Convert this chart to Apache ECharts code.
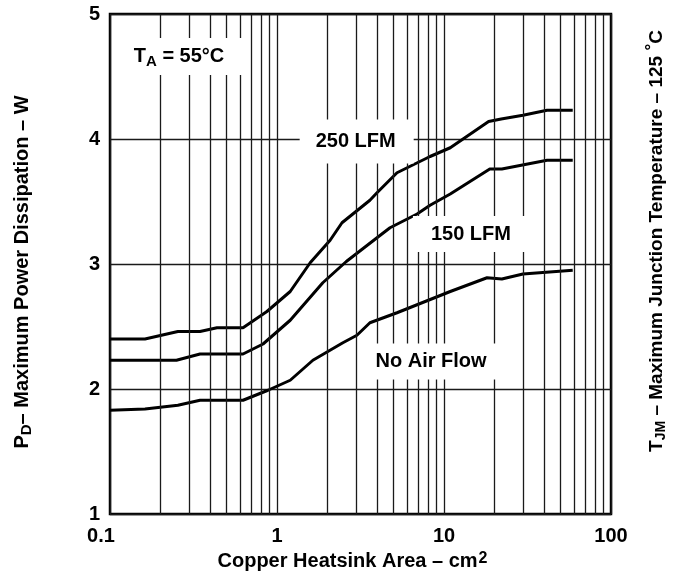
<!DOCTYPE html>
<html>
<head>
<meta charset="utf-8">
<script src="https://cdn.jsdelivr.net/npm/echarts@6/dist/echarts.min.js"></script>
<style>html,body{margin:0;padding:0;background:#fff;}#c{width:675px;height:578px;}</style>
</head>
<body>
<div id="c"></div>
<script>
// ---- data ----
const x250 = [0.1, 0.162, 0.255, 0.346, 0.437, 0.626, 0.87, 1.2, 1.58, 2.08, 2.45, 3.6, 3.97, 5.23, 8.25, 10.9, 18.5, 22, 29.7, 41.4, 59];
const y250 = [2.40, 2.40, 2.46, 2.46, 2.49, 2.49, 2.62, 2.78, 3.01, 3.19, 3.33, 3.51, 3.57, 3.73, 3.86, 3.93, 4.14, 4.16, 4.19, 4.23, 4.23];
const x150 = [0.1, 0.25, 0.346, 0.626, 0.825, 1.2, 1.88, 2.6, 3.97, 4.75, 6.9, 8.25, 10.9, 18.8, 22.2, 41.4, 59];
const y150 = [2.23, 2.23, 2.28, 2.28, 2.36, 2.55, 2.85, 3.02, 3.21, 3.29, 3.40, 3.47, 3.56, 3.76, 3.76, 3.83, 3.83];
const xNoAir = [0.1, 0.162, 0.255, 0.346, 0.626, 0.883, 1.2, 1.64, 2.48, 3.01, 3.6, 5.23, 10.9, 18.1, 22.2, 29.7, 59];
const yNoAir = [1.83, 1.84, 1.87, 1.91, 1.91, 1.99, 2.07, 2.23, 2.37, 2.43, 2.53, 2.61, 2.78, 2.89, 2.88, 2.92, 2.95];
const minorGridX = [0.2,0.3,0.4,0.5,0.6,0.7,0.8,0.9, 2,3,4,5,6,7,8,9, 20,30,40,50,60,70,80,90];
const yTicks = [1, 2, 3, 4, 5];
const xTickLabels = ['0.1', '1', '10', '100'];
// label texts and anchor values
const notes = [
  {text: 'T{sub|A} = 55°C', at: [0.27, 4.66], pad: [6, 20, 6, 14]},
  {text: '250 LFM', at: [3.0, 3.98], pad: [12, 18, 12, 16]},
  {text: '150 LFM', at: [14.5, 3.24], pad: [8, 18, 8, 18]},
  {text: 'No Air Flow', at: [8.25, 2.22], pad: [8, 14, 8, 16]}
];

const FONT = 'Liberation Sans';
const zip = (xs, ys) => xs.map((x, i) => [x, ys[i]]);
const curveStyle = {color: '#000', width: 3};
const tickFont = {fontFamily: FONT, fontWeight: 'bold', fontSize: 20, color: '#000'};

const chart = echarts.init(document.getElementById('c'));
chart.setOption({
  animation: false,
  backgroundColor: '#fff',
  grid: {left: 110, right: 64, top: 14, bottom: 64, show: true, borderColor: '#000', borderWidth: 2.5, backgroundColor: 'transparent'},
  xAxis: {
    type: 'log', logBase: 10, min: 0.1, max: 100,
    name: 'Copper Heatsink Area – cm{sup|2}',
    nameLocation: 'middle', nameGap: 36,
    nameTextStyle: {fontFamily: FONT, fontWeight: 'bold', fontSize: 20, color: '#000', padding: [0, 16, 0, 0],
      rich: {sup: {fontFamily: FONT, fontWeight: 'bold', fontSize: 16, color: '#000', padding: [0, 0, 5, 1]}}},
    axisLine: {show: false}, axisTick: {show: false},
    axisLabel: Object.assign({}, tickFont, {margin: 12,
      formatter: v => {
        const s = xTickLabels.find(t => Math.abs(parseFloat(t) - v) < 1e-9 * Math.max(1, v));
        if (!s) return '';
        return s === xTickLabels[0] ? '{first|' + s + '}' : s;
      },
      rich: {first: Object.assign({}, tickFont, {padding: [0, 18, 0, 0]})}}),
    splitLine: {show: true, lineStyle: {color: '#1a1a1a', width: 1.3}}
  },
  yAxis: {
    type: 'value', min: yTicks[0], max: yTicks[yTicks.length - 1], interval: 1,
    axisLine: {show: false}, axisTick: {show: false},
    axisLabel: Object.assign({}, tickFont, {margin: 10}),
    splitLine: {show: true, lineStyle: {color: '#1a1a1a', width: 1.3}}
  },
  graphic: [{
    type: 'text', x: 22, y: 272, rotation: Math.PI / 2, z: 10,
    style: {
      text: 'P{sub|D}– Maximum Power Dissipation – W',
      fontFamily: FONT, fontWeight: 'bold', fontSize: 20, fill: '#000',
      align: 'center', verticalAlign: 'middle',
      rich: {sub: {fontFamily: FONT, fontWeight: 'bold', fontSize: 15, fill: '#000', padding: [10, 0, 0, 0]}}
    }
  }, {
    type: 'text', x: 657, y: 241, rotation: Math.PI / 2, z: 10,
    style: {
      text: 'T{sub|JM} – Maximum Junction Temperature – 125 {sup|°}C',
      fontFamily: FONT, fontWeight: 'bold', fontSize: 19, fill: '#000',
      align: 'center', verticalAlign: 'middle',
      rich: {
        sub: {fontFamily: FONT, fontWeight: 'bold', fontSize: 14, fill: '#000', padding: [9, 0, 0, 0]},
        sup: {fontFamily: FONT, fontWeight: 'bold', fontSize: 17, fill: '#000', padding: [0, 0, 9, 0]}
      }
    }
  }],
  series: [
    {type: 'line', name: 'grid', data: [], z: 1, silent: true,
     markLine: {silent: true, symbol: ['none', 'none'], label: {show: false}, animation: false,
       lineStyle: {color: '#1a1a1a', width: 1.3, type: 'solid'},
       data: minorGridX.map(v => ({xAxis: v}))}},
    {type: 'line', name: '250 LFM', data: zip(x250, y250), showSymbol: false, lineStyle: curveStyle, z: 3},
    {type: 'line', name: '150 LFM', data: zip(x150, y150), showSymbol: false, lineStyle: curveStyle, z: 3},
    {type: 'line', name: 'No Air Flow', data: zip(xNoAir, yNoAir), showSymbol: false, lineStyle: curveStyle, z: 3},
    {type: 'scatter', name: 'notes', data: [], z: 5, silent: true,
     markPoint: {
       symbol: 'rect', symbolSize: 1, itemStyle: {color: 'rgba(0,0,0,0)'}, animation: false,
       data: notes.map(n => ({
         coord: n.at,
         label: {show: true, position: 'inside', formatter: n.text,
           fontFamily: FONT, fontWeight: 'bold', fontSize: 20, color: '#000',
           backgroundColor: '#fff', padding: n.pad,
           rich: {sub: {fontFamily: FONT, fontWeight: 'bold', fontSize: 15, color: '#000', padding: [10, 0, 0, 0]}}}
       }))
     }}
  ]
});
</script>
</body>
</html>
